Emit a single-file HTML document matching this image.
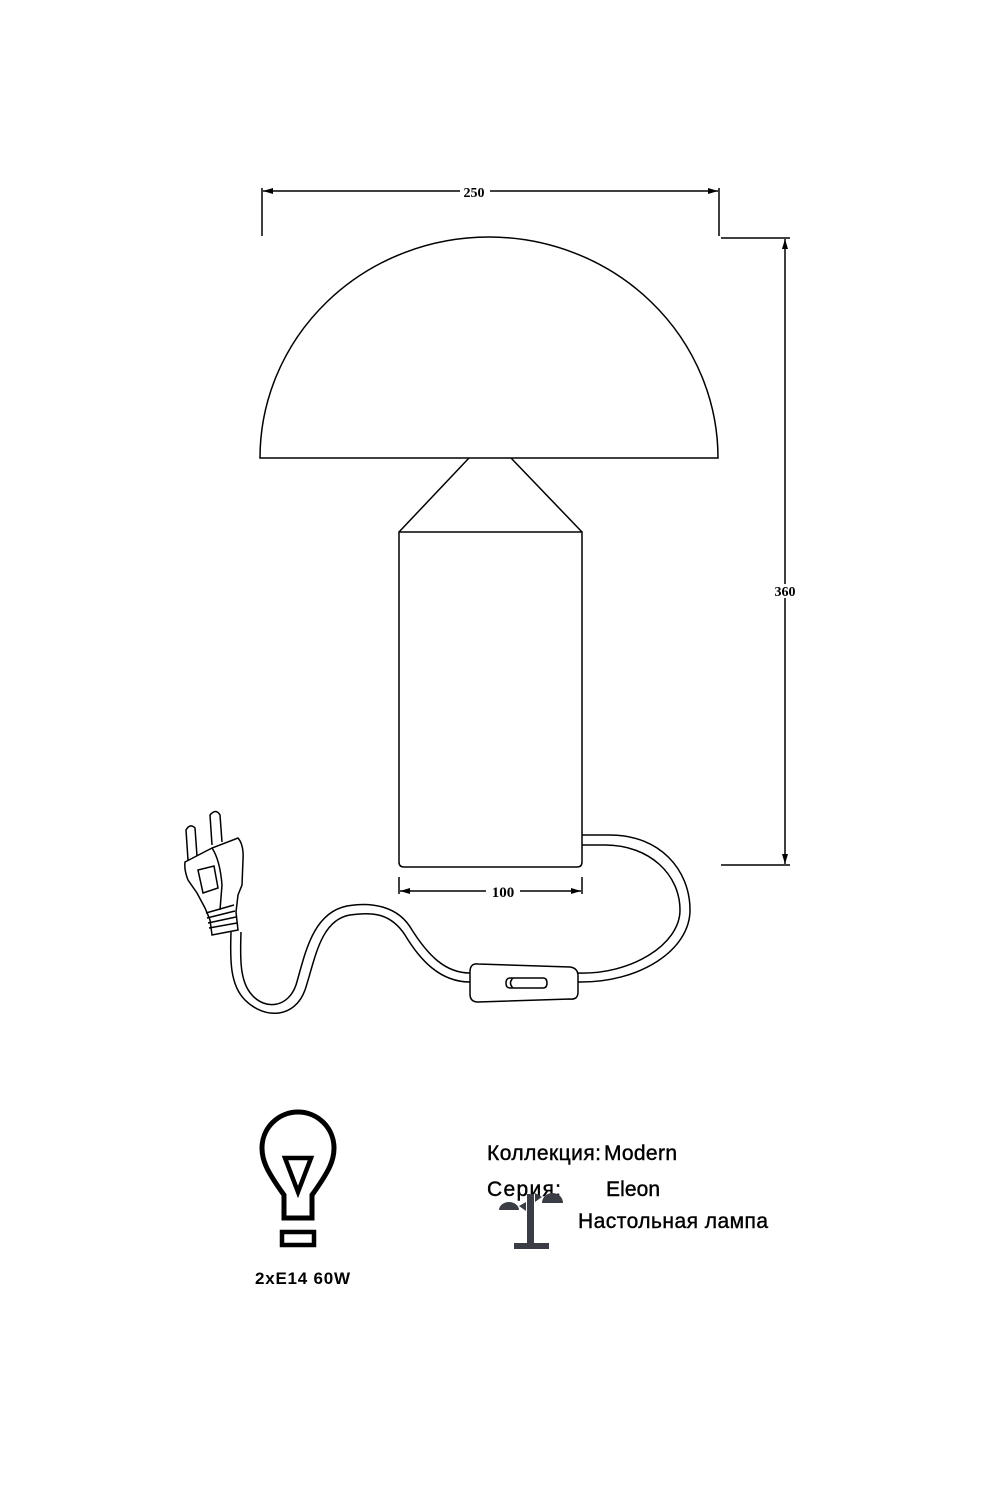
<!DOCTYPE html>
<html><head><meta charset="utf-8"><style>
body{margin:0;background:#fff}
svg{display:block}
.s{font-family:"Liberation Sans",sans-serif}
.r{font-family:"Liberation Serif",serif}
.t{stroke:#000;stroke-width:0.4}
</style></head><body>
<svg width="1000" height="1500" viewBox="0 0 1000 1500">
<defs>
<marker id="a" viewBox="0 0 10 6" refX="10" refY="3" markerWidth="10" markerHeight="6" orient="auto-start-reverse" markerUnits="userSpaceOnUse"><path d="M0,0L10,3L0,6z" fill="#000"/></marker>
</defs>
<g fill="none" stroke="#000" stroke-width="1.5">
<line x1="262" y1="188" x2="262" y2="236"/>
<line x1="719" y1="188" x2="719" y2="236"/>
<line x1="263" y1="191" x2="718" y2="191" marker-start="url(#a)" marker-end="url(#a)"/>
<line x1="721" y1="238" x2="790" y2="238"/>
<line x1="721" y1="865" x2="790" y2="865"/>
<line x1="785" y1="239" x2="785" y2="864" marker-start="url(#a)" marker-end="url(#a)"/>
<path d="M260,458 A229,221 0 0 1 718,458 Z"/>
<path d="M469,458 L399,532 M511,458 L582,532"/>
<path d="M399,532 L582,532 L582,862 Q582,867 577,867 L404,867 Q399,867 399,862 Z"/>
<line x1="399" y1="877" x2="399" y2="894"/>
<line x1="582" y1="877" x2="582" y2="894"/>
<line x1="400" y1="891" x2="581" y2="891" marker-start="url(#a)" marker-end="url(#a)"/>
<path d="M582,835 L610,835 C660,835 690,870 690,910 C690,950 640,983 578,982"/>
<path d="M582,845 L605,845 C650,845 680,875 680,910 C680,945 630,975 578,973"/>
<path d="M470,972 Q470,963 478,964 L570,967 Q578,968 578,976 L578,992 Q578,1000 570,999 L478,1002 Q470,1002 470,994 Z"/>
<path d="M510,978 L543,978 Q547,978 547,983 Q547,988 543,988 L510,988 Q506,988 506,983 Q506,978 510,978 Z"/>
<path d="M513,978 Q508,983 513,988"/>
<path d="M470,982 C440,982 420,960 405,935 C390,912 370,912 350,915 C320,920 315,960 305,990 C295,1018 265,1020 245,1000 C230,985 230,960 231,932"/>
<path d="M470,973 C445,973 428,955 412,930 C398,905 370,902 347,906 C312,913 305,955 296,985 C288,1008 265,1010 252,995 C240,982 240,960 241,932"/>
<path d="M188,860 L186,830 Q190,823 195,828 L197,856"/>
<path d="M212,845 L210,815 Q216,808 220,815 L222,842"/>
<path d="M185,862 L212,848 L238,838 Q244,845 243,860 L242,885 L238,895 L236,912 L238,930 L212,935 L210,920 L205,908 L197,893 L188,880 Q184,870 185,862 Z"/>
<path d="M212,848 Q220,860 222,885 L220,910"/>
<path d="M198,870 L214,866 L218,888 L203,893 Z"/>
<path d="M206,913 L234,905 M207,918 L235,911 M208,923 L236,917 M209,928 L237,923"/>
</g>
<rect x="460" y="184" width="30" height="14" fill="#fff"/>
<text class="r" x="474" y="197" font-size="14" font-weight="bold" text-anchor="middle">250</text>
<rect x="770" y="584" width="30" height="14" fill="#fff"/>
<text class="r" x="785" y="596" font-size="14" font-weight="bold" text-anchor="middle">360</text>
<rect x="486" y="884" width="34" height="14" fill="#fff"/>
<text class="r" x="503" y="897" font-size="15" font-weight="bold" text-anchor="middle">100</text>
<g fill="none" stroke="#000" stroke-width="5">
<path d="M284,1218 L284,1195 C266,1170 262,1160 262,1148 A36,36 0 0 1 334,1148 C334,1160 330,1170 312,1195 L312,1218 Z"/>
<path d="M285,1158 L311,1158 L298,1192 Z" stroke-width="4.5"/>
<rect x="282" y="1232" width="32" height="13" stroke-width="4.5"/>
</g>
<text class="s" x="255" y="1284" font-size="17" font-weight="bold" textLength="95">2xE14 60W</text>
<text class="s t" x="487" y="1160" font-size="21" textLength="114">Коллекция:</text>
<text class="s t" x="604" y="1160" font-size="21" textLength="73">Modern</text>
<text class="s t" x="487" y="1196" font-size="21" textLength="74">Серия:</text>
<text class="s t" x="606" y="1196" font-size="21" textLength="54">Eleon</text>
<text class="s t" x="578" y="1228" font-size="21" textLength="190">Настольная лампа</text>
<g fill="#3a3d45">
<rect x="527" y="1194" width="7" height="52"/>
<rect x="514" y="1243" width="35" height="6"/>
<path d="M499,1210 A10,8 0 0 1 519,1210 Z"/>
<path d="M542,1203 A10.5,10 0 0 1 563,1203 Z"/>
<path d="M519,1206 L526,1202 L526,1211 Z M542,1197 L535,1193 L535,1202 Z"/>
</g>
</svg>
</body></html>
